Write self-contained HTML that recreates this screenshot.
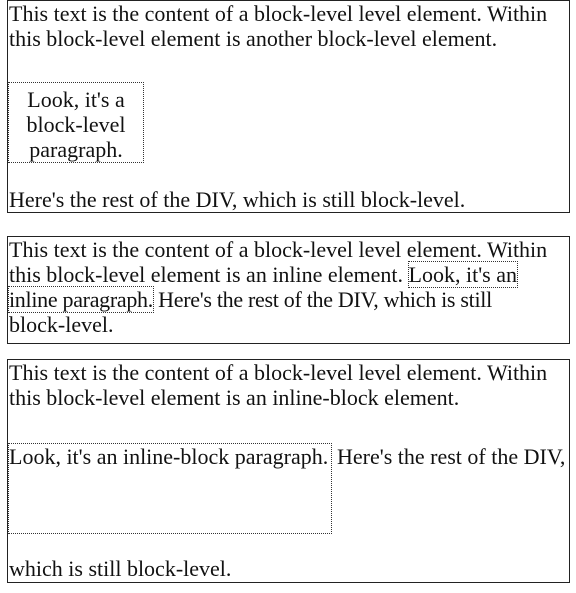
<!DOCTYPE html>
<html><head><style>
body{margin:0;background:#fff;width:576px;height:593px;position:relative;overflow:hidden;font-family:"Liberation Serif",serif;font-size:22px;color:#111}
.b{position:absolute;border:1px solid #222;box-sizing:border-box;left:7px;width:563px}
.l{position:absolute;left:9px;white-space:nowrap;line-height:25px;height:25px}
.d{position:absolute;border:1px dotted #333;box-sizing:border-box}
</style></head><body>
<div class="b" style="top:0;height:213px"></div>
<div class="l" style="top:1px">This text is the content of a block-level level element. Within</div>
<div class="l" style="top:26px">this block-level element is another block-level element.</div>
<div class="d" style="left:8px;top:82px;width:136px;height:81px"></div>
<div class="l" style="left:8px;width:136px;text-align:center;top:87px">Look, it's a</div>
<div class="l" style="left:8px;width:136px;text-align:center;top:112px">block-level</div>
<div class="l" style="left:8px;width:136px;text-align:center;top:137px">paragraph.</div>
<div class="l" style="top:187px">Here's the rest of the DIV, which is still block-level.</div>

<div class="b" style="top:236px;height:108px"></div>
<div class="l" style="top:237px">This text is the content of a block-level level element. Within</div>
<div class="l" style="top:262px">this block-level element is an inline element. <span style="outline:1px dotted #333">Look, it's an</span></div>
<div class="l" style="top:287px;letter-spacing:-0.3px"><span style="outline:1px dotted #333">inline paragraph.</span> Here's the rest of the DIV, which is still</div>
<div class="l" style="top:312px">block-level.</div>

<div class="b" style="top:359px;height:224px"></div>
<div class="l" style="top:360px">This text is the content of a block-level level element. Within</div>
<div class="l" style="top:385px">this block-level element is an inline-block element.</div>
<div class="d" style="left:8px;top:443px;width:324px;height:91px"></div>
<div class="l" style="top:444px">Look, it's an inline-block paragraph.</div>
<div class="l" style="left:337px;top:444px">Here's the rest of the DIV,</div>
<div class="l" style="top:556px">which is still block-level.</div>
</body></html>
